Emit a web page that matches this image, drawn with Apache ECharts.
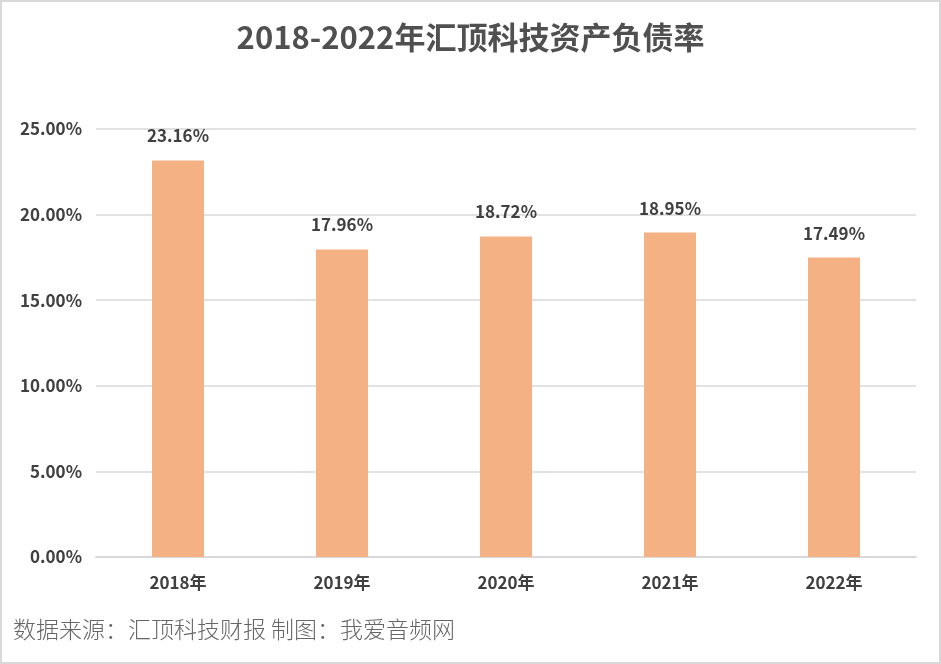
<!DOCTYPE html>
<html>
<head>
<meta charset="utf-8">
<script src="https://cdn.jsdelivr.net/npm/echarts@6/dist/echarts.min.js"></script>
<style>
  html, body { margin: 0; padding: 0; background: #fff; }
  #chart { width: 937px; height: 660px; border: 2px solid #d9d9d9; }
</style>
</head>
<body>
<div id="chart"></div>
<script>
// 年份 & 资产负债率（%）
const years = ['2018年', '2019年', '2020年', '2021年', '2022年']
const debtRatio = [23.16, 17.96, 18.72, 18.95, 17.49]

const chart = echarts.init(document.getElementById('chart'))
const font = '"Noto Sans CJK SC", "Liberation Sans", sans-serif'

chart.setOption({
  animation: false,
  textStyle: { fontFamily: font },
  title: [
    {
      text: '2018-2022年汇顶科技资产负债率',
      left: 'center',
      top: 15,
      textStyle: { fontSize: 31, fontWeight: 'bold', color: '#505050', fontFamily: font }
    },
    {
      text: '数据来源：汇顶科技财报 制图：我爱音频网',
      left: 6,
      top: 611,
      textStyle: { fontSize: 23, fontWeight: 300, color: '#666666', fontFamily: font }
    }
  ],
  grid: { left: 94, right: 23, top: 127, bottom: 105 },
  xAxis: {
    type: 'category',
    data: years,
    axisLine: { lineStyle: { color: '#d9d9d9', width: 2 } },
    axisTick: { show: false },
    axisLabel: { fontSize: 17, fontWeight: 'bold', color: '#404040', margin: 17 }
  },
  yAxis: {
    type: 'value',
    min: 0,
    max: 25,
    interval: 5,
    axisLine: { show: false },
    axisTick: { show: false },
    splitLine: { lineStyle: { color: '#d9d9d9', width: 1.5 } },
    axisLabel: {
      fontSize: 17,
      fontWeight: 'bold',
      color: '#404040',
      margin: 14,
      formatter: v => v.toFixed(2) + '%'
    }
  },
  series: [
    {
      type: 'bar',
      data: debtRatio,
      barWidth: 52,
      itemStyle: { color: '#F4B183' },
      label: {
        show: true,
        position: 'top',
        distance: 16,
        fontSize: 17,
        fontWeight: 'bold',
        color: '#404040',
        formatter: p => p.value.toFixed(2) + '%'
      }
    }
  ]
})
</script>
</body>
</html>
